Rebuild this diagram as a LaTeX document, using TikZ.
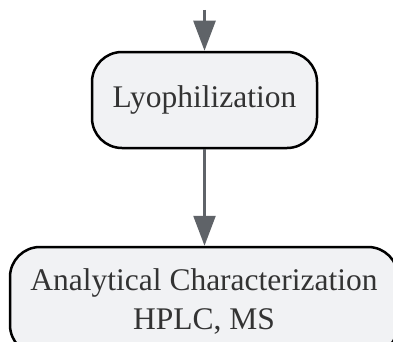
\documentclass[tikz,border=0pt]{standalone}
\usepackage{fontspec}
\setmainfont{Liberation Serif}
\usetikzlibrary{arrows.meta, positioning}

\definecolor{boxfill}{HTML}{F1F2F4}
\definecolor{flowgray}{HTML}{5F6368}
\definecolor{textgray}{HTML}{333333}

\begin{document}
\begin{tikzpicture}[
            x=1pt, y=1pt,
            step_box/.style={draw=black, line width=2.5pt, fill=boxfill, rounded corners=30pt,
                             text=textgray, align=center, inner sep=0pt,
                             font=\fontsize{31.5}{39}\selectfont},
            flow/.style={draw=flowgray, line width=2.5pt,
                         -{Triangle[length=30pt, width=22pt]}}
        ]

        % Cornice della figura
        \path[use as bounding box, clip] (0,0) rectangle (393,341);

        % Passi del processo
        \node[step_box, minimum width=225pt, minimum height=96pt] (lyo) at (204.5,241) {Lyophilization};
        \node[step_box, minimum width=388pt, minimum height=108pt] (charact) at (204,40)
            {Analytical Characterization\\HPLC, MS};

        % Ingresso dall'alto
        \coordinate (incoming) at (204.5,331);

        % Frecce
        \draw[flow] (incoming) -- (lyo);
        \draw[flow] (lyo) -- (lyo |- charact.north);

\end{tikzpicture}
\end{document}
